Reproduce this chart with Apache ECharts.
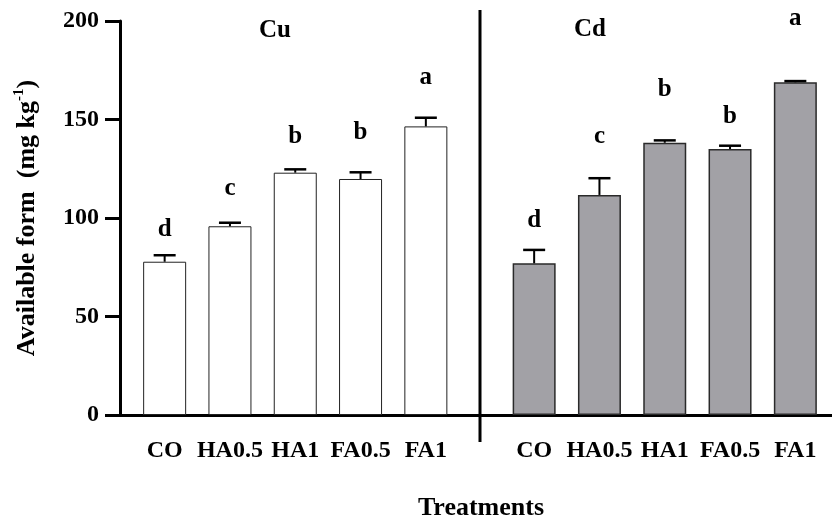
<!DOCTYPE html>
<html><head><meta charset="utf-8">
<script src="https://cdn.jsdelivr.net/npm/echarts@6.0.0/dist/echarts.min.js"></script>
<style>html,body{margin:0;padding:0;background:#fff}#c{width:832px;height:521px}</style>
</head><body><div id="c"></div><script>
// ---- data ----
const treatments = ['CO', 'HA0.5', 'HA1', 'FA0.5', 'FA1'];
const cuMean = [77.8, 95.8, 123.0, 119.8, 146.5];
const cuErr = [3.3, 1.8, 1.7, 3.4, 4.4];
const cuLetters = ['d', 'c', 'b', 'b', 'a'];
const cuLetterAt = [93.9, 115.0, 141.3, 143.5, 171.4];
const cdMean = [77.0, 111.7, 138.2, 135.0, 168.9];
const cdErr = [6.8, 8.5, 1.2, 1.7, 0.6];
const cdLetters = ['d', 'c', 'b', 'b', 'a'];
const cdLetterAt = [98.6, 141.3, 165.0, 151.4, 201.4];
const yMin = 0, yMax = 200, yStep = 50;

const FONT = '"Liberation Serif", "Times New Roman", serif';
const chart = echarts.init(document.getElementById('c'), null, {renderer: 'canvas'});

function errSeries(idx, mean, err, letters, letterAt) {
  return {
    type: 'custom', xAxisIndex: idx, yAxisIndex: idx, z: 5, clip: false,
    data: mean.map((m, i) => [i, m, err[i], letterAt[i]]),
    encode: {x: 0, y: 1},
    renderItem: function (params, api) {
      const i = params.dataIndex;
      const m = api.value(1), e = api.value(2), la = api.value(3);
      const base = api.coord([i, m]);
      const top = api.coord([i, m + e]);
      const lp = api.coord([i, la]);
      const cap = 11;
      return {
        type: 'group',
        children: [
          {type: 'line', shape: {x1: base[0], y1: base[1], x2: top[0], y2: top[1]},
           style: {stroke: '#000', lineWidth: 2}},
          {type: 'line', shape: {x1: top[0] - cap, y1: top[1], x2: top[0] + cap, y2: top[1]},
           style: {stroke: '#000', lineWidth: 2.5}},
          {type: 'text', x: lp[0], y: lp[1],
           style: {text: letters[i], fill: '#000', font: 'bold 25px ' + FONT,
                   align: 'center', verticalAlign: 'middle',
                   textAlign: 'center', textVerticalAlign: 'middle'}}
        ]
      };
    }
  };
}

const catAxis = (g) => ({
  type: 'category', gridIndex: g, data: treatments,
  axisLine: {show: false}, axisTick: {show: false},
  axisLabel: {color: '#000', fontFamily: FONT, fontWeight: 'bold', fontSize: 24, margin: 24,
              interval: 0, hideOverlap: false}
});
const hiddenY = (g) => ({
  type: 'value', gridIndex: g, min: yMin, max: yMax, interval: yStep, show: false,
  splitLine: {show: false}
});

const option = {
  backgroundColor: '#fff',
  animation: false,
  grid: [
    {left: 120, top: 21, right: 0, height: 394, outerBoundsMode: 'none'},
    {left: 132, top: 21, width: 326.5, height: 394, outerBoundsMode: 'none'},
    {left: 501.5, top: 21, width: 326.5, height: 394, outerBoundsMode: 'none'}
  ],
  xAxis: [
    {type: 'value', gridIndex: 0, min: 0, max: 1,
     axisLine: {show: true, lineStyle: {color: '#000', width: 3}},
     axisTick: {show: false}, axisLabel: {show: false}, splitLine: {show: false}},
    catAxis(1), catAxis(2)
  ],
  yAxis: [
    {type: 'value', gridIndex: 0, min: yMin, max: yMax, interval: yStep,
     axisLine: {show: true, lineStyle: {color: '#000', width: 3}},
     axisTick: {show: true, length: 15, lineStyle: {color: '#000', width: 3}},
     axisLabel: {color: '#000', fontFamily: FONT, fontWeight: 'bold', fontSize: 24, margin: 21},
     splitLine: {show: false},
     name: '{b|Available form  (mg kg}{s|-1}{b|)}',
     nameLocation: 'middle', nameGap: 78, nameMoveOverlap: false,
     nameTextStyle: {
       rich: {
         b: {fontFamily: FONT, fontWeight: 'bold', fontSize: 26, color: '#000', lineHeight: 30},
         s: {fontFamily: FONT, fontWeight: 'bold', fontSize: 15, color: '#000', lineHeight: 16, verticalAlign: 'top'}
       }
     }},
    hiddenY(1), hiddenY(2)
  ],
  graphic: [
    {type: 'line', shape: {x1: 480, y1: 10, x2: 480, y2: 442}, style: {stroke: '#000', lineWidth: 3}, z: 10},
    {type: 'text', x: 275, y: 31, style: {text: 'Cu', fill: '#000', font: 'bold 25px ' + FONT,
      align: 'center', verticalAlign: 'middle', textAlign: 'center', textVerticalAlign: 'middle'}},
    {type: 'text', x: 590, y: 30, style: {text: 'Cd', fill: '#000', font: 'bold 25px ' + FONT,
      align: 'center', verticalAlign: 'middle', textAlign: 'center', textVerticalAlign: 'middle'}},
    {type: 'text', x: 481, y: 508, style: {text: 'Treatments', fill: '#000', font: 'bold 26px ' + FONT,
      align: 'center', verticalAlign: 'middle', textAlign: 'center', textVerticalAlign: 'middle'}}
  ],
  series: [
    {type: 'bar', xAxisIndex: 1, yAxisIndex: 1, data: cuMean, barWidth: 43,
     itemStyle: {color: '#ffffff', borderColor: '#222', borderWidth: 1}},
    {type: 'bar', xAxisIndex: 2, yAxisIndex: 2, data: cdMean, barWidth: 43,
     itemStyle: {color: '#a2a1a6', borderColor: '#2a2a2a', borderWidth: 1.5}},
    errSeries(1, cuMean, cuErr, cuLetters, cuLetterAt),
    errSeries(2, cdMean, cdErr, cdLetters, cdLetterAt)
  ]
};
chart.setOption(option);
</script></body></html>
